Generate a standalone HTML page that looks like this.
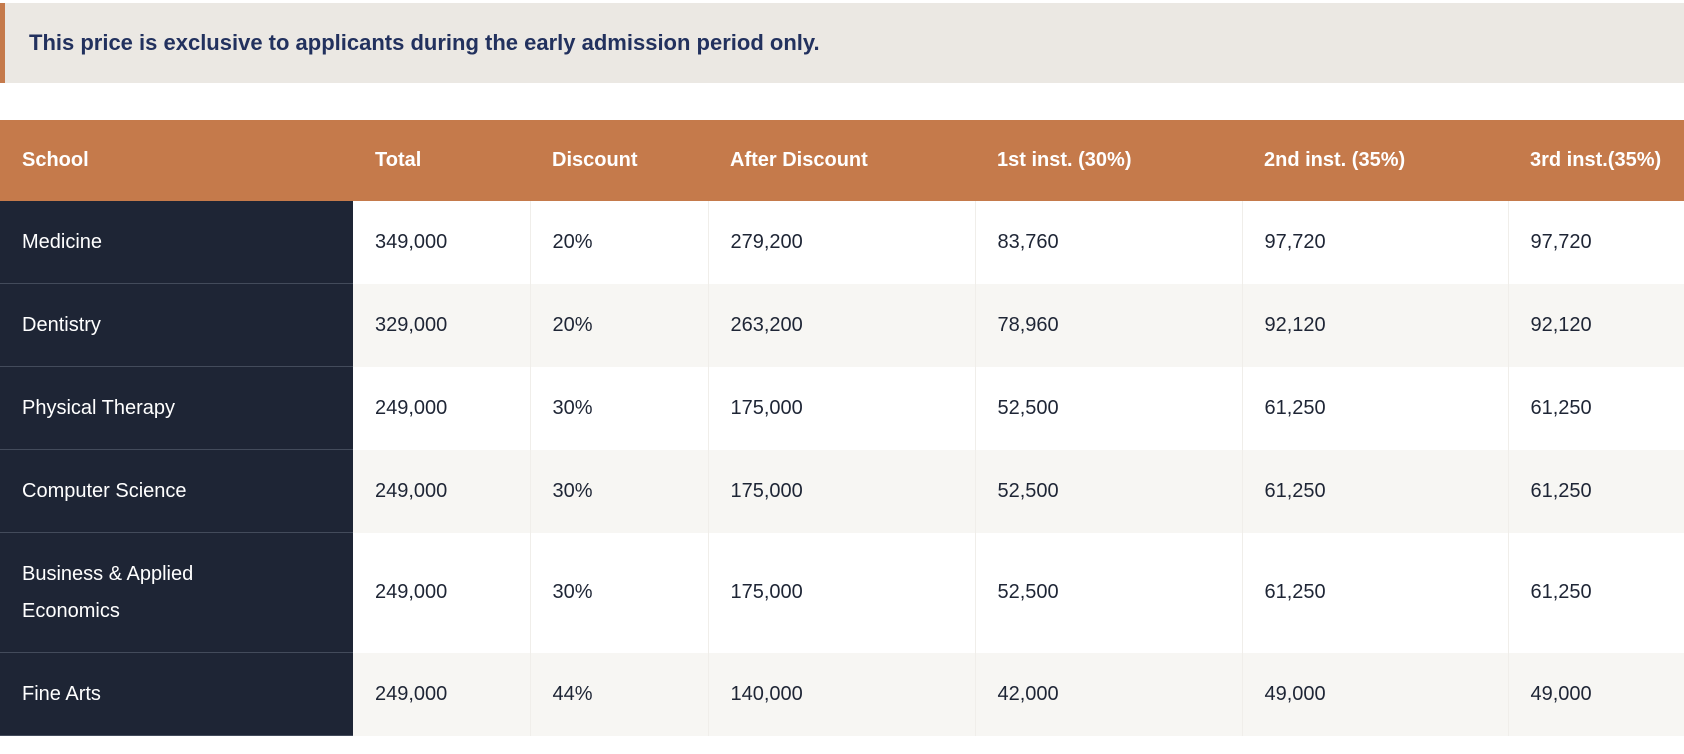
<!DOCTYPE html>
<html><head><meta charset="utf-8">
<style>
body{margin:0;width:1684px;height:754px;overflow:hidden;background:#fff;font-family:"Liberation Sans",sans-serif;}
.banner{position:absolute;left:0;top:3px;width:1684px;height:80px;background:#ebe8e3;border-left:5px solid #c57a4b;box-sizing:border-box;}
.banner span{position:absolute;left:24px;top:27px;font-size:22px;font-weight:bold;color:#22315e;white-space:nowrap;}
table{position:absolute;left:0;top:120px;border-collapse:collapse;table-layout:fixed;width:1700px;}
th,td{text-align:left;padding:0 0 0 22px;font-size:20px;white-space:nowrap;}
th{background:#c57a4b;color:#fff;height:81px;font-weight:bold;}
td{height:82px;color:#1e2535;border-right:1px solid #f0eeea;}
td.s{background:#1e2535;color:#fff;border-bottom:1px solid #434b5b;border-right:none;}
tr.alt td{background:#f7f6f3;}
tr.alt td.s{background:#1e2535;}
tr.tall td{height:119px;line-height:37px;}
</style></head><body>
<div class="banner"><span>This price is exclusive to applicants during the early admission period only.</span></div>
<table>
<colgroup><col style="width:353px"><col style="width:177px"><col style="width:178px"><col style="width:267px"><col style="width:267px"><col style="width:266px"><col style="width:192px"></colgroup>
<tr><th>School</th><th>Total</th><th>Discount</th><th>After Discount</th><th>1st inst. (30%)</th><th>2nd inst. (35%)</th><th>3rd inst.(35%)</th></tr>
<tr><td class="s">Medicine</td><td>349,000</td><td>20%</td><td>279,200</td><td>83,760</td><td>97,720</td><td>97,720</td></tr>
<tr class="alt"><td class="s">Dentistry</td><td>329,000</td><td>20%</td><td>263,200</td><td>78,960</td><td>92,120</td><td>92,120</td></tr>
<tr><td class="s">Physical Therapy</td><td>249,000</td><td>30%</td><td>175,000</td><td>52,500</td><td>61,250</td><td>61,250</td></tr>
<tr class="alt"><td class="s">Computer Science</td><td>249,000</td><td>30%</td><td>175,000</td><td>52,500</td><td>61,250</td><td>61,250</td></tr>
<tr class="tall"><td class="s">Business &amp; Applied<br>Economics</td><td>249,000</td><td>30%</td><td>175,000</td><td>52,500</td><td>61,250</td><td>61,250</td></tr>
<tr class="alt"><td class="s">Fine Arts</td><td>249,000</td><td>44%</td><td>140,000</td><td>42,000</td><td>49,000</td><td>49,000</td></tr>
</table>
</body></html>
